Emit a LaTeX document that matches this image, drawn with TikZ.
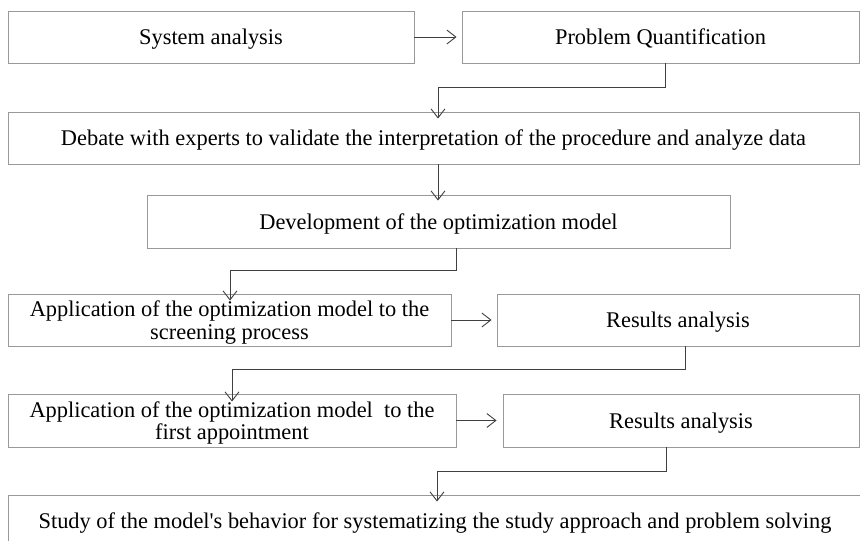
\documentclass[tikz,border=0pt]{standalone}
\usepackage{fontspec}
\setmainfont{Liberation Serif}
\usetikzlibrary{arrows.meta}
\begin{document}
\begin{tikzpicture}[x=1pt,y=-1pt,
  box/.style={draw=black!40,line width=0.9pt,fill=white,inner sep=0pt,text depth=0pt,
    font=\fontsize{22.4}{22.5}\selectfont,align=center,text=black},
  conn/.style={draw=black!75,line width=0.9pt,-{Straight Barb[length=9pt,width=14pt,line width=0.9pt]}}]
\useasboundingbox (0,0) rectangle (860,541);
\clip (0,0) rectangle (860,541);
\fill[white] (0,0) rectangle (860,541);
\node[box,minimum width=406pt,minimum height=52pt] (b1) at (211,37) {System analysis};
\node[box,minimum width=397pt,minimum height=52pt] (b2) at (660.5,37) {Problem Quantification};
\node[box,minimum width=851pt,minimum height=52pt] (b3) at (433.5,138) {Debate with experts to validate the interpretation of the procedure and analyze data};
\node[box,minimum width=583pt,minimum height=53pt] (b4) at (438.5,221.5) {Development of the optimization model};
\node[box,minimum width=443pt,minimum height=52pt] (b5) at (229.5,320) {Application of the optimization model to the\\screening process};
\node[box,minimum width=362pt,minimum height=52pt] (b6) at (678,320) {Results analysis};
\node[box,minimum width=448pt,minimum height=53pt] (b7) at (232,420.5) {Application of the optimization model\ \ to the\\first appointment};
\node[box,minimum width=356pt,minimum height=53pt] (b8) at (681,420.5) {Results analysis};
\node[box,minimum width=854pt,minimum height=52pt] (b9) at (435,521) {Study of the model\textquotesingle s behavior for systematizing the study approach and problem solving};
% bend points
\coordinate (k1) at (665,87);  \coordinate (k1b) at (438,87);
\coordinate (k2) at (456,270); \coordinate (k2b) at (230,270);
\coordinate (k3) at (685,369); \coordinate (k3b) at (232,369);
\coordinate (k4) at (666,471); \coordinate (k4b) at (437,471);
\coordinate (v3) at (438,0);
% connectors
\draw[conn] (b1.east) -- ([xshift=-5pt]b2.west);
\draw[conn] (b2.south -| k1) -- (k1) -- (k1b) -- ([yshift=-7pt]b3.north -| k1b);
\draw[conn] (b3.south -| v3) -- ([yshift=-6pt]b4.north -| v3);
\draw[conn] (b4.south -| k2) -- (k2) -- (k2b) -- ([yshift=-7pt]b5.north -| k2b);
\draw[conn] (b5.east) -- ([xshift=-5pt]b6.west);
\draw[conn] (b6.south -| k3) -- (k3) -- (k3b) -- ([yshift=-8pt]b7.north -| k3b);
\draw[conn] (b7.east) -- ([xshift=-6pt]b8.west);
\draw[conn] (b8.south -| k4) -- (k4) -- (k4b) -- ([yshift=-7pt]b9.north -| k4b);
\end{tikzpicture}
\end{document}
